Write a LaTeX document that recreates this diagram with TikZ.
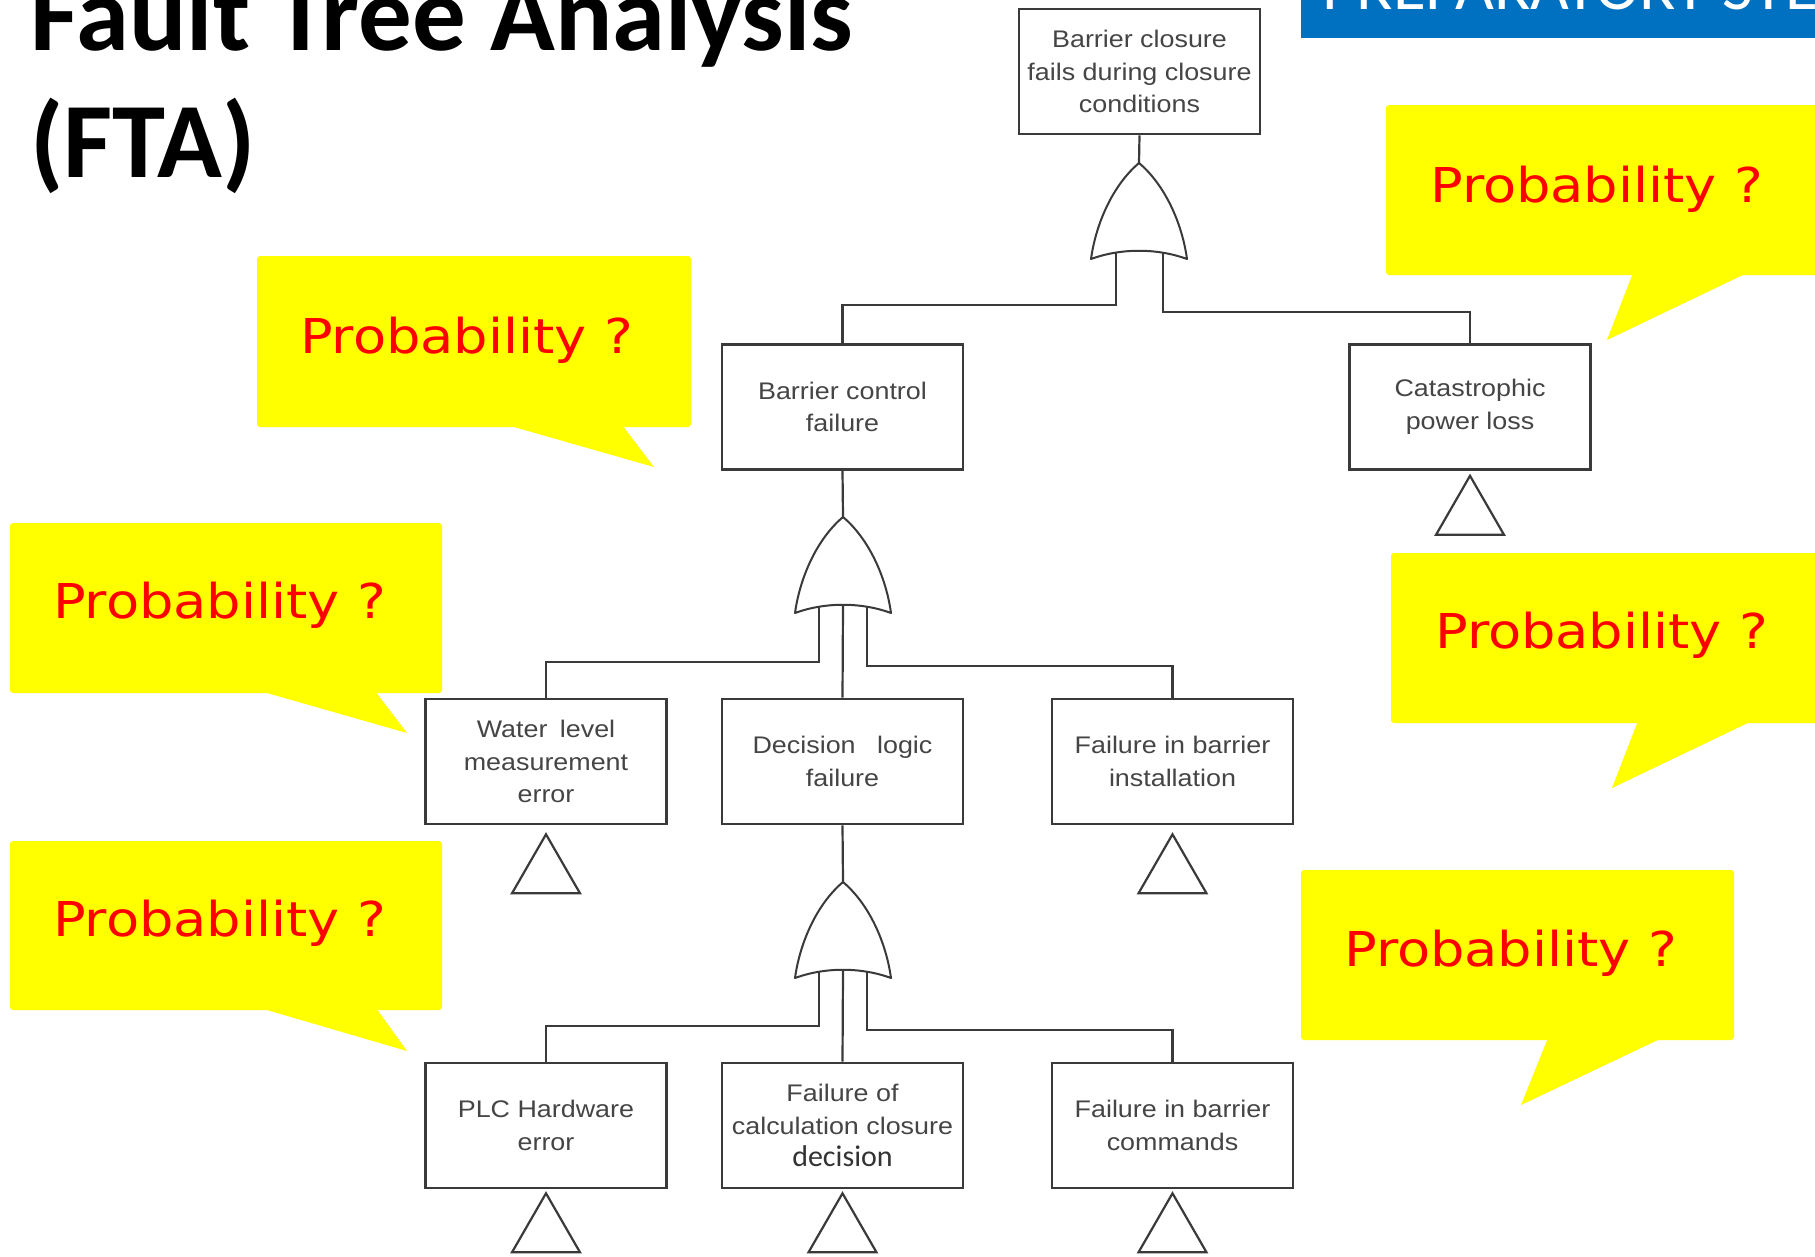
\documentclass[tikz,border=0pt]{standalone}
\usepackage{fontspec}
\usetikzlibrary{calc}
\setmainfont{Liberation Sans}
\newfontfamily\titlefont{Carlito}
\newfontfamily\boxfont[FakeStretch=1.12]{Liberation Sans}
\newfontfamily\probfont[FakeStretch=1.13]{DejaVu Sans}
\definecolor{callyellow}{HTML}{FFFF00}
\definecolor{probred}{HTML}{FF0000}
\definecolor{barblue}{HTML}{0070C0}
\definecolor{ink}{HTML}{3A3A3A}
\definecolor{boxtext}{HTML}{454545}

% OR gate drawn with its tip at the given coordinate
\newcommand\fgate[1]{%
  \begin{scope}[shift={(#1)}]
    \draw[gate] (0,0) .. controls (-26,22) and (-43,60) .. (-48,96)
      .. controls (-18,85) and (18,85) .. (48,96)
      .. controls (43,60) and (26,22) .. (0,0) -- cycle;
  \end{scope}}
% basic-event triangle hanging below a node
\newcommand\ftri[2]{%
  \draw[basic] ($(#1.south)+(0,#2)$) -- ++(-34,59) -- ++(68,0) -- cycle;}
% speech bubble: left, top, right, bottom, tail path
\newcommand\bubble[5]{%
  \fill[callout, rounded corners=3pt] (#1,#2) rectangle (#3,#4);
  \fill[callout] #5;}

\begin{document}
\begin{tikzpicture}[x=1pt,y=-1pt,
  event/.style={draw=ink, line width=2.6pt, fill=white, minimum width=241pt,
    minimum height=125pt, inner sep=0pt, align=center, text=boxtext,
    font=\boxfont\fontsize{24}{32.5}\selectfont},
  wire/.style={draw=ink, line width=2.2pt},
  gate/.style={draw=ink, line width=2pt, line join=round},
  basic/.style={draw=ink, line width=2.2pt, line join=miter},
  callout/.style={fill=callyellow},
  prob/.style={anchor=base west, inner sep=0pt, text=probred,
    font=\probfont\fontsize{48}{56}\selectfont},
  heading/.style={anchor=base west, inner sep=0pt,
    font=\titlefont\bfseries\fontsize{107}{114}\selectfont},
]
\fill[white] (0,0) rectangle (1815,1256);
\useasboundingbox (0,0) rectangle (1815,1256);

% title and banner
\node[heading] (title1) at (30,50) {Fault Tree Analysis};
\node[heading] (title2) at (30,177) {(FTA)};
\fill[barblue] (1301,0) rectangle (1815,38);
\node[anchor=base west, inner sep=0pt, text=white, font=\titlefont\fontsize{67}{74}\selectfont]
  (banner) at (1322,9) {PREPARATORY STE};

% events
\node[event] (top) at (1139.5,71.5) {Barrier closure\\fails during closure\\conditions};
\node[event] (bcf) at (842.5,407) {Barrier control\\failure};
\node[event] (cpl) at (1470,407) {Catastrophic\\power loss};
\node[event] (wle) at (546,761.5) {Water\hspace{5pt} level\\measurement\\error};
\node[event] (dlf) at (842.5,761.5) {Decision\hspace{14pt} logic\\failure};
\node[event] (fbi) at (1172.5,761.5) {Failure in barrier\\installation};
\node[event] (plc) at (546,1125.5) {PLC Hardware\\error};
\node[event] (fcc) at (842.5,1125.5) {Failure of\\calculation closure\\{\titlefont\color{black!80}\fontsize{30}{34}\selectfont decision}};
\node[event] (fbc) at (1172.5,1125.5) {Failure in barrier\\commands};

% gates
\coordinate (g1) at (1139,163);
\coordinate (g2) at (843,517);
\coordinate (g3) at (843,882);
\fgate{g1}
\fgate{g2}
\fgate{g3}

% connectors
\draw[wire] (top.south) -- (g1);
\draw[wire] ($(g1)+(-23,89)$) -- ++(0,53) -| (bcf.north);
\draw[wire] ($(g1)+(24,89)$) -- ++(0,60) -| (cpl.north);

\draw[wire] (bcf.south) -- (g2);
\draw[wire] ($(g2)+(-24,89)$) -- ++(0,56) -| (wle.north);
\draw[wire] ($(g2)+(0,88)$) -- (dlf.north);
\draw[wire] ($(g2)+(24,89)$) -- ++(0,60) -| (fbi.north);

\draw[wire] (dlf.south) -- (g3);
\draw[wire] ($(g3)+(-24,89)$) -- ++(0,55) -| (plc.north);
\draw[wire] ($(g3)+(0,88)$) -- (fcc.north);
\draw[wire] ($(g3)+(24,89)$) -- ++(0,59) -| (fbc.north);

% basic events
\ftri{cpl}{5}
\ftri{wle}{9}
\ftri{fbi}{9}
\ftri{plc}{4}
\ftri{fcc}{4}
\ftri{fbc}{4}

% probability call-outs
\bubble{257}{256}{691}{427}{(507,425) -- (654,467) -- (622,425) -- cycle}
\node[prob] (pA) at (300,353) {Probability ?};
\bubble{1386}{105}{1830}{275}{(1633,273) -- (1607,340) -- (1747,273) -- cycle}
\node[prob] (pB) at (1430,202) {Probability ?};
\bubble{10}{523}{442}{693}{(260,691) -- (407,733) -- (375,691) -- cycle}
\node[prob] (pC) at (53,618) {Probability ?};
\bubble{1391}{553}{1830}{723}{(1638,721) -- (1612,788) -- (1752,721) -- cycle}
\node[prob] (pD) at (1435,648) {Probability ?};
\bubble{10}{841}{442}{1010}{(260,1008) -- (407,1051) -- (376,1008) -- cycle}
\node[prob] (pE) at (53,936) {Probability ?};
\bubble{1301}{870}{1734}{1040}{(1548,1038) -- (1521,1105) -- (1662,1038) -- cycle}
\node[prob] (pF) at (1344,966) {Probability ?};
\end{tikzpicture}
\end{document}
